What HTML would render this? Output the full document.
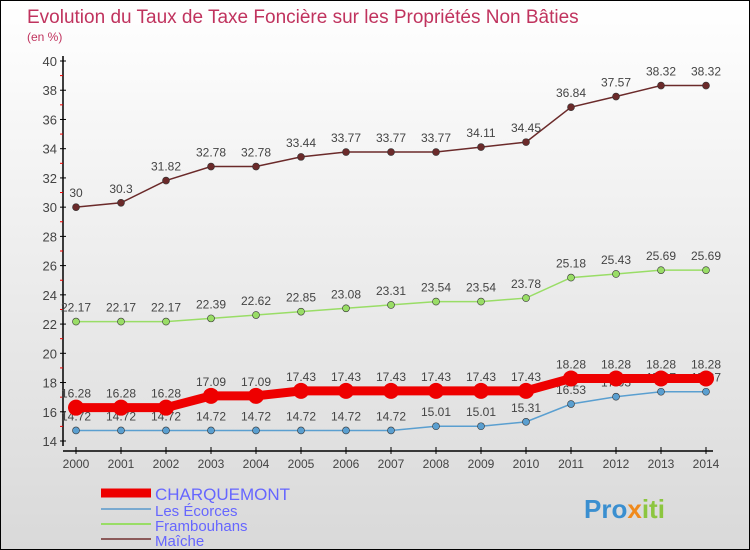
<!DOCTYPE html>
<html><head><meta charset="utf-8"><style>
body{margin:0}
#c{width:748px;height:548px;border:1px solid #000;background:linear-gradient(#fff,#d9d9d9);position:relative;font-family:"Liberation Sans",sans-serif;overflow:hidden}
</style></head><body>
<div id="c">
<svg width="748" height="548" id="s">
<text x="26" y="22" font-size="19" fill="#c0335e">Evolution du Taux de Taxe Foncière sur les Propriétés Non Bâties</text>
<text x="26" y="40" font-size="12" fill="#c0335e">(en %)</text>
<g id="axes"></g><g id="series"></g>
<g>
<line x1="100" y1="492" x2="150" y2="492" stroke="#e00" stroke-width="9"/>
<text x="154" y="499" font-size="17" fill="#66f">CHARQUEMONT</text>
<line x1="100" y1="508" x2="150" y2="508" stroke="#7aaad0" stroke-width="2"/>
<text x="154" y="515" font-size="15" fill="#66f">Les Écorces</text>
<line x1="100" y1="523" x2="150" y2="523" stroke="#99dd66" stroke-width="2"/>
<text x="154" y="530" font-size="15" fill="#66f">Frambouhans</text>
<line x1="100" y1="538" x2="150" y2="538" stroke="#8b5a5a" stroke-width="2"/>
<text x="154" y="545" font-size="15" fill="#66f">Maîche</text>
</g>
<text x="583" y="517" font-size="26" font-weight="bold" fill="#3a8fd0">Pro<tspan fill="#f08a1c">x</tspan><tspan fill="#8cc63f">iti</tspan></text>
</svg></div>
<script>
const years=[2000,2001,2002,2003,2004,2005,2006,2007,2008,2009,2010,2011,2012,2013,2014];
const yTicks=[14,16,18,20,22,24,26,28,30,32,34,36,38,40];
const charquemont=[16.28,16.28,16.28,17.09,17.09,17.43,17.43,17.43,17.43,17.43,17.43,18.28,18.28,18.28,18.28];
const lesEcorces=[14.72,14.72,14.72,14.72,14.72,14.72,14.72,14.72,15.01,15.01,15.31,16.53,17.03,17.37,17.37];
const frambouhans=[22.17,22.17,22.17,22.39,22.62,22.85,23.08,23.31,23.54,23.54,23.78,25.18,25.43,25.69,25.69];
const maiche=[30,30.3,31.82,32.78,32.78,33.44,33.77,33.77,33.77,34.11,34.45,36.84,37.57,38.32,38.32];
const NS="http://www.w3.org/2000/svg";
const X=i=>75+i*45, Y=v=>60+(40-v)*(380/26);
function mk(t,a,p){const e=document.createElementNS(NS,t);for(const k in a)e.setAttribute(k,a[k]);p.appendChild(e);return e;}
const ax=document.getElementById('axes'),sg=document.getElementById('series');
let e=mk('line',{x1:62,y1:55,x2:62,y2:445,stroke:'#000','stroke-width':1.5},ax);


e=mk('line',{x1:62,y1:450,x2:712,y2:450,stroke:'#000','stroke-width':1.5},ax);


yTicks.forEach(v=>{
 mk('line',{x1:59,y1:Y(v),x2:65,y2:Y(v),stroke:'#000'},ax);
 if(v<40){mk('line',{x1:59,y1:Y(v+1),x2:62,y2:Y(v+1),stroke:'#e00'},ax);}
 const t=mk('text',{x:56,y:Y(v)+5,'font-size':13,fill:'#444','text-anchor':'end'},ax);t.textContent=v;
 
 
});
years.forEach((yr,i)=>{
 mk('line',{x1:X(i),y1:446,x2:X(i),y2:453,stroke:'#000'},ax);
 const t=mk('text',{x:X(i),y:467,'font-size':12,fill:'#444','text-anchor':'middle'},ax);t.textContent=yr;
 
 
});
function series(d,col,lw,r,name){
 const g=mk('g',{},sg);
 
 
 mk('polyline',{points:d.map((v,i)=>X(i)+','+Y(v)).join(' '),fill:'none',stroke:col,'stroke-width':lw},g);
 d.forEach((v,i)=>{
  const c=mk('circle',{cx:X(i),cy:Y(v),r:r,fill:col,stroke:'#333','stroke-width':r>5?0:0.6},g);
  
  
  const t=mk('text',{x:X(i),y:Y(v)-10,'font-size':12,fill:'#444','text-anchor':'middle'},g);t.textContent=v;
  
  
 });
}
series(maiche,'#6b2a2a',1.5,3.5,'maiche');
series(frambouhans,'#99dd66',1.5,3.5,'frambouhans');
series(lesEcorces,'#5a9fd0',1.5,3.5,'les-ecorces');
series(charquemont,'#e00',9,8,'charquemont');
</script></body></html>
